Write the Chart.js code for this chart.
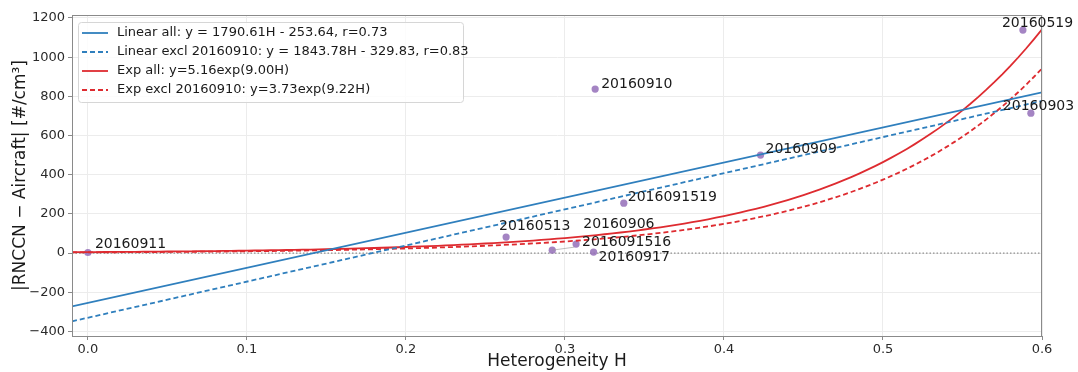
<!DOCTYPE html>
<html>
<head>
<meta charset="utf-8">
<script src="https://cdn.jsdelivr.net/npm/chart.js@4.4.1/dist/chart.umd.min.js"></script>
<style>
  html, body { margin: 0; padding: 0; background: #fff; }
  canvas { display: block; }
</style>
</head>
<body>
<canvas id="hetChart" width="1078" height="372"></canvas>
<script>
// flight dates and their heterogeneity / |RNCCN - Aircraft| values
const dates = ["20160911", "20160513", "20160906", "2016091516", "20160917",
               "2016091519", "20160909", "20160910", "20160519", "20160903"];
const heterogeneity = [0.0, 0.263, 0.292, 0.307, 0.318, 0.337, 0.423, 0.319, 0.588, 0.593];
const absDiff = [3, 82, 15, 46, 5, 255, 500, 837, 1138, 714];

// fit coefficients (slope, intercept) and (a, b) for y = a*exp(b*H)
const linAll = [1790.61, -253.64];
const linExcl = [1843.78, -329.83];
const expAll = [5.16, 9.00];
const expExcl = [3.73, 9.22];

const xTicks = [0.0, 0.1, 0.2, 0.3, 0.4, 0.5, 0.6];
const yTicks = [-400, -200, 0, 200, 400, 600, 800, 1000, 1200];

// label placement relative to each point, in pixels (dx to text start, dy to text middle)
const labelOffsets = [[7, -8], [-7, -11], [31, -26], [6, -2], [5, 5],
                      [4, -6], [5, -6], [6, -5], [-21, -7], [-28, -7]];

const X_MIN = -0.01, X_MAX = 0.6;
const BLUE = "#2f7fbd";
const RED = "#de2b30";
const FONT = "DejaVu Sans";

function linearLine(c) {
  return [X_MIN, X_MAX].map(h => ({ x: h, y: c[0] * h + c[1] }));
}

function expCurve(c) {
  const pts = [];
  for (let i = 0; i <= 122; i++) {
    const h = X_MIN + (X_MAX - X_MIN) * i / 122;
    pts.push({ x: h, y: c[0] * Math.exp(c[1] * h) });
  }
  return pts;
}

const points = heterogeneity.map((h, i) => ({ x: h, y: absDiff[i] }));

// dotted zero line, frame, point labels and legend box
const decorations = {
  id: "decorations",
  beforeDatasetsDraw(chart) {
    const { ctx, chartArea: a, scales } = chart;
    const y0 = scales.y.getPixelForValue(0);
    ctx.save();
    ctx.strokeStyle = "#777";
    ctx.lineWidth = 1;
    ctx.setLineDash([1.5, 2]);
    ctx.beginPath();
    ctx.moveTo(a.left, y0);
    ctx.lineTo(a.right, y0);
    ctx.stroke();
    ctx.restore();
  },
  afterDraw(chart) {
    const { ctx, chartArea: a, scales } = chart;
    ctx.save();

    // frame
    ctx.strokeStyle = "#8a8a8a";
    ctx.lineWidth = 1;
    ctx.strokeRect(a.left + 0.5, a.top + 0.5, a.right - a.left - 1, a.bottom - a.top);

    // connector from 20160906 towards its neighbour
    const p6 = { x: scales.x.getPixelForValue(heterogeneity[2]), y: scales.y.getPixelForValue(absDiff[2]) };
    ctx.strokeStyle = "rgba(150,150,150,0.6)";
    ctx.beginPath();
    ctx.moveTo(p6.x, p6.y);
    ctx.lineTo(p6.x + 22, p6.y - 3);
    ctx.stroke();

    // point labels
    ctx.fillStyle = "#1a1a1a";
    ctx.font = "14px " + FONT;
    ctx.textBaseline = "middle";
    ctx.textAlign = "left";
    dates.forEach((d, i) => {
      const px = scales.x.getPixelForValue(heterogeneity[i]);
      const py = scales.y.getPixelForValue(absDiff[i]);
      ctx.fillText(d, px + labelOffsets[i][0], py + labelOffsets[i][1]);
    });

    // legend
    const items = chart.data.datasets.filter(ds => ds.label);
    const bx = a.left + 6, by = a.top + 7, bw = 385, rowH = 19;
    const bh = items.length * rowH + 4;
    ctx.fillStyle = "rgba(255,255,255,0.85)";
    ctx.strokeStyle = "#d6d6d6";
    ctx.beginPath();
    ctx.roundRect(bx + 0.5, by + 0.5, bw, bh, 3);
    ctx.fill();
    ctx.stroke();
    ctx.font = "13px " + FONT;
    items.forEach((ds, i) => {
      const cy = by + 11 + i * rowH;
      ctx.strokeStyle = ds.borderColor;
      ctx.lineWidth = 1.8;
      ctx.setLineDash(ds.borderDash || []);
      ctx.beginPath();
      ctx.moveTo(bx + 4, cy);
      ctx.lineTo(bx + 30, cy);
      ctx.stroke();
      ctx.setLineDash([]);
      ctx.fillStyle = "#1a1a1a";
      ctx.fillText(ds.label, bx + 39, cy);
    });
    ctx.restore();
  }
};

const lineStyle = { showLine: true, pointRadius: 0, borderWidth: 1.8, fill: false, tension: 0 };

new Chart(document.getElementById("hetChart"), {
  type: "scatter",
  data: {
    datasets: [
      { ...lineStyle, label: "Linear all: y = 1790.61H - 253.64, r=0.73",
        data: linearLine(linAll), borderColor: BLUE, order: 1 },
      { ...lineStyle, label: "Linear excl 20160910: y = 1843.78H - 329.83, r=0.83",
        data: linearLine(linExcl), borderColor: BLUE, borderDash: [5, 3], order: 2 },
      { ...lineStyle, label: "Exp all: y=5.16exp(9.00H)",
        data: expCurve(expAll), borderColor: RED, order: 3 },
      { ...lineStyle, label: "Exp excl 20160910: y=3.73exp(9.22H)",
        data: expCurve(expExcl), borderColor: RED, borderDash: [5, 3], order: 4 },
      { data: points, pointRadius: 3.6, pointBackgroundColor: "rgba(148,110,185,0.85)",
        pointBorderWidth: 0, showLine: false, order: 5 }
    ]
  },
  options: {
    responsive: false,
    animation: false,
    devicePixelRatio: 1,
    layout: { padding: { top: 15, right: 36, left: 0, bottom: 0 } },
    plugins: { legend: { display: false }, tooltip: { enabled: false } },
    scales: {
      x: {
        type: "linear",
        min: X_MIN,
        max: X_MAX,
        afterBuildTicks: s => { s.ticks = xTicks.map(v => ({ value: v })); },
        afterFit: s => { s.height = 36; },
        ticks: { callback: v => v.toFixed(1), color: "#2a2a2a", font: { family: FONT, size: 13 }, padding: 2, maxRotation: 0 },
        grid: { color: "#ececec", tickColor: "#8a8a8a", tickLength: 4 },
        border: { display: true, color: "#8a8a8a" },
        title: { display: true, text: "Heterogeneity H", color: "#1a1a1a", font: { family: FONT, size: 17 }, padding: { top: 0, bottom: 0 } }
      },
      y: {
        min: -423,
        max: 1215,
        afterBuildTicks: s => { s.ticks = yTicks.map(v => ({ value: v })); },
        afterFit: s => { s.width = 72; },
        ticks: { callback: v => (v < 0 ? "\u2212" + Math.abs(v) : String(v)), color: "#2a2a2a", font: { family: FONT, size: 13 }, padding: 3 },
        grid: { color: "#ececec", tickColor: "#8a8a8a", tickLength: 4 },
        border: { display: true, color: "#8a8a8a" },
        title: { display: true, text: "|RNCCN \u2212 Aircraft| [#/cm\u00b3]", color: "#1a1a1a", font: { family: FONT, size: 17 }, padding: { top: 10, bottom: 0 } }
      }
    }
  },
  plugins: [decorations]
});
</script>
</body>
</html>
